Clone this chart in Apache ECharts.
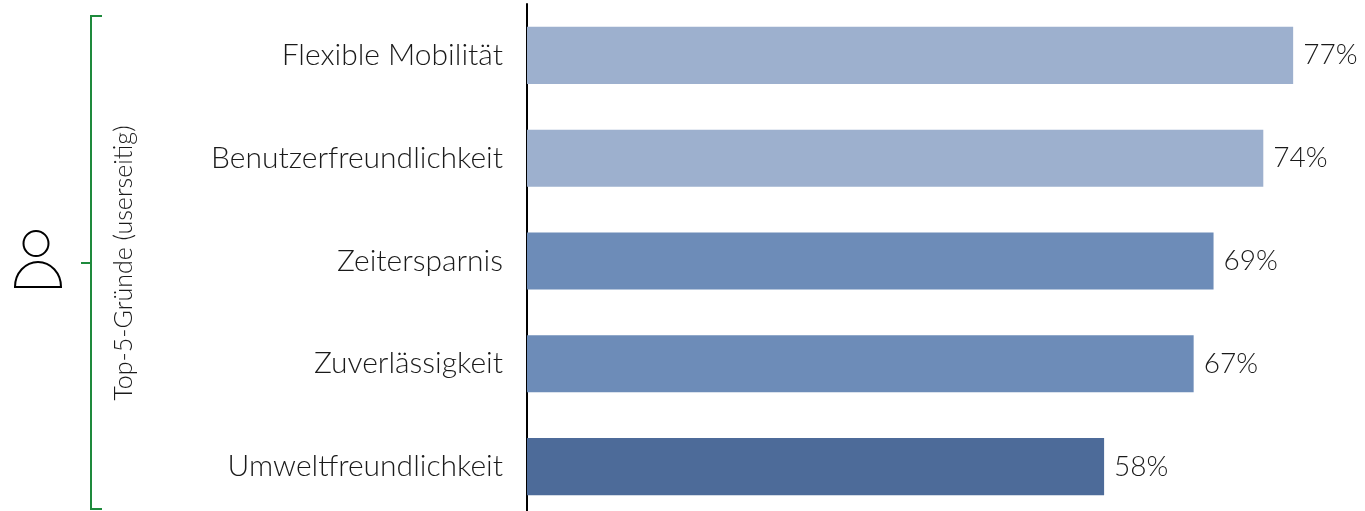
<!DOCTYPE html>
<html>
<head>
<meta charset="utf-8">
<script src="https://cdn.jsdelivr.net/npm/echarts@6/dist/echarts.min.js"></script>
<style>
  html, body { margin: 0; padding: 0; background: #fff; }
  #chart { width: 1365px; height: 511px; }
</style>
</head>
<body>
<div id="chart"></div>
<script>
// Daten
const categories = ['Flexible Mobilität', 'Benutzerfreundlichkeit', 'Zeitersparnis', 'Zuverlässigkeit', 'Umweltfreundlichkeit']
const values = [77, 74, 69, 67, 58]
const barColors = ['#9db0ce', '#9db0ce', '#6d8cb8', '#6d8cb8', '#4d6b99']
const groupTitle = 'Top-5-Gründe (userseitig)'

const green = '#1e8a3c'
const font = 'Lato, "Open Sans", sans-serif'

const chart = echarts.init(document.getElementById('chart'))

const option = {
  animation: false,
  grid: { left: 527, top: 4, width: 995, height: 514, outerBoundsMode: 'none', containLabel: false },
  xAxis: {
    type: 'value',
    min: 0,
    max: 100,
    show: false
  },
  yAxis: {
    type: 'category',
    data: categories,
    inverse: true,
    axisLine: { show: true, lineStyle: { color: '#000', width: 2 } },
    axisTick: { show: false },
    axisLabel: {
      margin: 24,
      fontFamily: font,
      fontWeight: 300,
      fontSize: 30,
      color: '#1a1a1a'
    }
  },
  series: [{
    type: 'bar',
    data: values.map((v, i) => ({ value: v, itemStyle: { color: barColors[i] } })),
    barCategoryGap: '44.5%',
    label: {
      show: true,
      position: 'right',
      distance: 10,
      formatter: '{c}%',
      fontFamily: font,
      fontWeight: 300,
      fontSize: 28,
      color: '#1a1a1a'
    }
  }],
  graphic: [
    // Klammer
    {
      type: 'polyline',
      shape: { points: [[102, 16], [91, 16], [91, 509], [102, 509]] },
      style: { stroke: green, lineWidth: 2, fill: null }
    },
    {
      type: 'line',
      shape: { x1: 81, y1: 263, x2: 91, y2: 263 },
      style: { stroke: green, lineWidth: 2 }
    },
    // Personen-Icon
    {
      type: 'circle',
      shape: { cx: 36, cy: 243.5, r: 12.5 },
      style: { stroke: '#000', lineWidth: 2, fill: null }
    },
    {
      type: 'sector',
      x: 38,
      y: 287,
      scaleY: 25 / 23,
      shape: { cx: 0, cy: 0, r: 23, r0: 0, startAngle: Math.PI, endAngle: Math.PI * 2, clockwise: true },
      style: { stroke: '#000', lineWidth: 2, fill: null, strokeNoScale: true }
    },
    // Gruppentitel
    {
      type: 'text',
      x: 124,
      y: 263,
      rotation: Math.PI / 2,
      style: {
        text: groupTitle,
        fontFamily: font,
        fontWeight: 300,
        fontSize: 25,
        fill: '#1a1a1a',
        align: 'center',
        verticalAlign: 'middle'
      }
    }
  ]
}

chart.setOption(option)
</script>
</body>
</html>
